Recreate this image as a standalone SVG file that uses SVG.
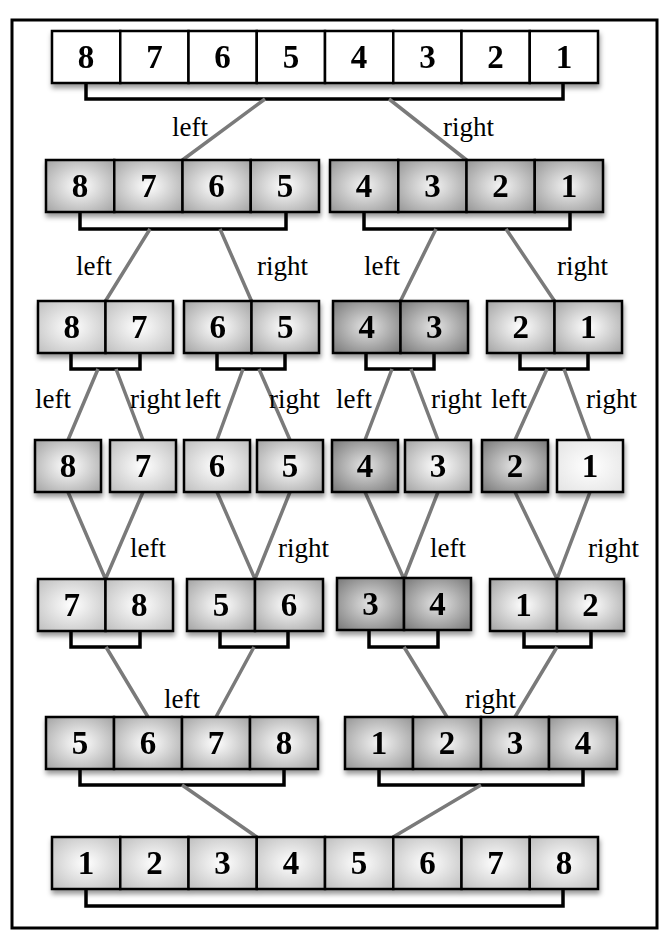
<svg xmlns="http://www.w3.org/2000/svg" width="668" height="950" viewBox="0 0 668 950">
<style>
.cell{stroke:#000;stroke-width:2.5}
.num{font-family:"Liberation Serif","Times New Roman",serif;font-weight:bold;font-size:33px;text-anchor:middle;fill:#000}
.lbl{font-family:"Liberation Serif","Times New Roman",serif;font-size:27px;fill:#000}
.br{fill:none;stroke:#000;stroke-width:3.5}
.ln{stroke:#7a7a7a;stroke-width:3.5;fill:none}
.node{filter:url(#sh)}
</style>
<defs>
<filter id="sh" x="-10%" y="-20%" width="120%" height="150%">
<feDropShadow dx="1" dy="4" stdDeviation="2.5" flood-color="#000" flood-opacity="0.4"/>
</filter>
<radialGradient id="gA" cx="50%" cy="50%" r="72%"><stop offset="0" stop-color="#ffffff"/><stop offset="1" stop-color="#a0a0a0"/></radialGradient>
<radialGradient id="gA2" cx="50%" cy="50%" r="72%"><stop offset="0" stop-color="#f4f4f4"/><stop offset="1" stop-color="#929292"/></radialGradient>
<radialGradient id="gB" cx="50%" cy="50%" r="72%"><stop offset="0" stop-color="#e4e4e4"/><stop offset="1" stop-color="#747474"/></radialGradient>
<radialGradient id="gC" cx="50%" cy="50%" r="72%"><stop offset="0" stop-color="#ffffff"/><stop offset="1" stop-color="#bcbcbc"/></radialGradient>
<radialGradient id="gD" cx="50%" cy="50%" r="72%"><stop offset="0" stop-color="#ffffff"/><stop offset="1" stop-color="#e2e2e2"/></radialGradient>
</defs>
<rect x="0" y="0" width="668" height="950" fill="#fff"/>
<rect x="12" y="20" width="645" height="908" fill="none" stroke="#000" stroke-width="3"/>

<g id="connectors">
<path class="br" d="M86,83V99H563V83"/>
<path class="br" d="M80,212V229H286V212M364,212V229H570V212"/>
<path class="br" d="M71,353V369H140V353M217,353V369H285V353M366,353V369H434V353M520,353V369H588V353"/>
<path class="br" d="M71,631V647H140V631M220,631V647H288V631M369,631V647H438V631M524,631V647H591V631"/>
<path class="br" d="M80,769V785H284V769M379,769V785H583V769"/>
<path class="br" d="M86,889V906H563V889"/>
<path class="ln" d="M265,99L182.5,160M389,99L466.5,160"/>
<path class="ln" d="M150,229L105.5,301M220,229L251.5,301M436,229L400.5,301M506,229L554.5,301"/>
<path class="ln" d="M98,369L68,440M116,369L143,440M243,369L217,440M259,369L290,440M392,369L365,440M411,369L438,440M547,369L515,440M564,369L590,440"/>
<path class="ln" d="M68,492L105.5,579M143,492L105.5,579M217,492L255,579M290,492L255,579M365,492L404,579M438,492L404,579M515,492L557,579M590,492L557,579"/>
<path class="ln" d="M106,647L148,717M254,647L216,717M404,647L447,717M557,647L515,717"/>
<path class="ln" d="M182,785L256.75,837M481,785L393.25,837"/>
<text class="lbl" x="172" y="136">left</text>
<text class="lbl" x="443" y="136">right</text>
<text class="lbl" x="76" y="275">left</text>
<text class="lbl" x="257" y="275">right</text>
<text class="lbl" x="364" y="275">left</text>
<text class="lbl" x="557" y="275">right</text>
<text class="lbl" x="35" y="408">left</text>
<text class="lbl" x="130" y="408">right</text>
<text class="lbl" x="185" y="408">left</text>
<text class="lbl" x="269" y="408">right</text>
<text class="lbl" x="336" y="408">left</text>
<text class="lbl" x="431" y="408">right</text>
<text class="lbl" x="491" y="408">left</text>
<text class="lbl" x="586" y="408">right</text>
<text class="lbl" x="130" y="557">left</text>
<text class="lbl" x="278" y="557">right</text>
<text class="lbl" x="430" y="557">left</text>
<text class="lbl" x="588" y="557">right</text>
<text class="lbl" x="164" y="708">left</text>
<text class="lbl" x="465" y="708">right</text>
</g>

<g id="r1" class="node">
<rect class="cell" x="52" y="31" width="68.25" height="52" fill="#fff"/>
<rect class="cell" x="120.25" y="31" width="68.25" height="52" fill="#fff"/>
<rect class="cell" x="188.5" y="31" width="68.25" height="52" fill="#fff"/>
<rect class="cell" x="256.75" y="31" width="68.25" height="52" fill="#fff"/>
<rect class="cell" x="325" y="31" width="68.25" height="52" fill="#fff"/>
<rect class="cell" x="393.25" y="31" width="68.25" height="52" fill="#fff"/>
<rect class="cell" x="461.5" y="31" width="68.25" height="52" fill="#fff"/>
<rect class="cell" x="529.75" y="31" width="68.25" height="52" fill="#fff"/>
<text class="num" x="86" y="68">8</text><text class="num" x="154.4" y="68">7</text><text class="num" x="222.6" y="68">6</text><text class="num" x="290.9" y="68">5</text><text class="num" x="359.1" y="68">4</text><text class="num" x="427.4" y="68">3</text><text class="num" x="495.6" y="68">2</text><text class="num" x="563.9" y="68">1</text>
</g>

<g id="r2a" class="node">
<rect class="cell" x="46" y="160" width="68.25" height="52" fill="url(#gA)"/>
<rect class="cell" x="114.25" y="160" width="68.25" height="52" fill="url(#gA)"/>
<rect class="cell" x="182.5" y="160" width="68.25" height="52" fill="url(#gA)"/>
<rect class="cell" x="250.75" y="160" width="68.25" height="52" fill="url(#gA)"/>
<text class="num" x="80" y="197">8</text><text class="num" x="148.4" y="197">7</text><text class="num" x="216.6" y="197">6</text><text class="num" x="284.9" y="197">5</text>
</g>
<g id="r2b" class="node">
<rect class="cell" x="330" y="160" width="68.25" height="52" fill="url(#gA2)"/>
<rect class="cell" x="398.25" y="160" width="68.25" height="52" fill="url(#gA2)"/>
<rect class="cell" x="466.5" y="160" width="68.25" height="52" fill="url(#gA2)"/>
<rect class="cell" x="534.75" y="160" width="68.25" height="52" fill="url(#gA2)"/>
<text class="num" x="364" y="197">4</text><text class="num" x="432.4" y="197">3</text><text class="num" x="500.6" y="197">2</text><text class="num" x="568.9" y="197">1</text>
</g>

<g id="r3a" class="node">
<rect class="cell" x="38" y="301" width="67.5" height="52" fill="url(#gC)"/>
<rect class="cell" x="105.5" y="301" width="67.5" height="52" fill="url(#gC)"/>
<text class="num" x="71.8" y="338">8</text><text class="num" x="139.3" y="338">7</text>
</g>
<g id="r3b" class="node">
<rect class="cell" x="184" y="301" width="67.5" height="52" fill="url(#gA)"/>
<rect class="cell" x="251.5" y="301" width="67.5" height="52" fill="url(#gA)"/>
<text class="num" x="217.8" y="338">6</text><text class="num" x="285.3" y="338">5</text>
</g>
<g id="r3c" class="node">
<rect class="cell" x="333" y="301" width="67.5" height="52" fill="url(#gB)"/>
<rect class="cell" x="400.5" y="301" width="67.5" height="52" fill="url(#gB)"/>
<text class="num" x="366.8" y="338">4</text><text class="num" x="434.3" y="338">3</text>
</g>
<g id="r3d" class="node">
<rect class="cell" x="487" y="301" width="67.5" height="52" fill="url(#gA)"/>
<rect class="cell" x="554.5" y="301" width="67.5" height="52" fill="url(#gA)"/>
<text class="num" x="520.8" y="338">2</text><text class="num" x="588.3" y="338">1</text>
</g>

<g id="r4a" class="node"><rect class="cell" x="35" y="440" width="66" height="52" fill="url(#gA)"/><text class="num" x="68" y="477">8</text></g>
<g id="r4b" class="node"><rect class="cell" x="110" y="440" width="66" height="52" fill="url(#gC)"/><text class="num" x="143" y="477">7</text></g>
<g id="r4c" class="node"><rect class="cell" x="184" y="440" width="66" height="52" fill="url(#gC)"/><text class="num" x="217" y="477">6</text></g>
<g id="r4d" class="node"><rect class="cell" x="257" y="440" width="66" height="52" fill="url(#gA)"/><text class="num" x="290" y="477">5</text></g>
<g id="r4e" class="node"><rect class="cell" x="332" y="440" width="66" height="52" fill="url(#gB)"/><text class="num" x="365" y="477">4</text></g>
<g id="r4f" class="node"><rect class="cell" x="405" y="440" width="66" height="52" fill="url(#gA)"/><text class="num" x="438" y="477">3</text></g>
<g id="r4g" class="node"><rect class="cell" x="482" y="440" width="66" height="52" fill="url(#gB)"/><text class="num" x="515" y="477">2</text></g>
<g id="r4h" class="node"><rect class="cell" x="557" y="440" width="66" height="52" fill="url(#gD)"/><text class="num" x="590" y="477">1</text></g>

<g id="r5a" class="node">
<rect class="cell" x="38" y="579" width="67.5" height="52" fill="url(#gC)"/>
<rect class="cell" x="105.5" y="579" width="67.5" height="52" fill="url(#gC)"/>
<text class="num" x="71.8" y="616">7</text><text class="num" x="139.3" y="616">8</text>
</g>
<g id="r5b" class="node">
<rect class="cell" x="187" y="579" width="68" height="52" fill="url(#gA)"/>
<rect class="cell" x="255" y="579" width="68" height="52" fill="url(#gA)"/>
<text class="num" x="221" y="616">5</text><text class="num" x="289" y="616">6</text>
</g>
<g id="r5c" class="node">
<rect class="cell" x="337" y="578" width="67" height="52" fill="url(#gB)"/>
<rect class="cell" x="404" y="578" width="67" height="52" fill="url(#gB)"/>
<text class="num" x="370.5" y="615">3</text><text class="num" x="437.5" y="615">4</text>
</g>
<g id="r5d" class="node">
<rect class="cell" x="490" y="579" width="67" height="52" fill="url(#gA)"/>
<rect class="cell" x="557" y="579" width="67" height="52" fill="url(#gA)"/>
<text class="num" x="523.5" y="616">1</text><text class="num" x="590.5" y="616">2</text>
</g>

<g id="r6a" class="node">
<rect class="cell" x="46" y="717" width="68" height="52" fill="url(#gA)"/>
<rect class="cell" x="114" y="717" width="68" height="52" fill="url(#gA)"/>
<rect class="cell" x="182" y="717" width="68" height="52" fill="url(#gA)"/>
<rect class="cell" x="250" y="717" width="68" height="52" fill="url(#gA)"/>
<text class="num" x="80" y="754">5</text><text class="num" x="148" y="754">6</text><text class="num" x="216" y="754">7</text><text class="num" x="284" y="754">8</text>
</g>
<g id="r6b" class="node">
<rect class="cell" x="345" y="717" width="68" height="52" fill="url(#gA2)"/>
<rect class="cell" x="413" y="717" width="68" height="52" fill="url(#gA2)"/>
<rect class="cell" x="481" y="717" width="68" height="52" fill="url(#gA2)"/>
<rect class="cell" x="549" y="717" width="68" height="52" fill="url(#gA2)"/>
<text class="num" x="379" y="754">1</text><text class="num" x="447" y="754">2</text><text class="num" x="515" y="754">3</text><text class="num" x="583" y="754">4</text>
</g>

<g id="r7" class="node">
<rect class="cell" x="52" y="837" width="68.25" height="52" fill="url(#gC)"/>
<rect class="cell" x="120.25" y="837" width="68.25" height="52" fill="url(#gC)"/>
<rect class="cell" x="188.5" y="837" width="68.25" height="52" fill="url(#gC)"/>
<rect class="cell" x="256.75" y="837" width="68.25" height="52" fill="url(#gC)"/>
<rect class="cell" x="325" y="837" width="68.25" height="52" fill="url(#gC)"/>
<rect class="cell" x="393.25" y="837" width="68.25" height="52" fill="url(#gC)"/>
<rect class="cell" x="461.5" y="837" width="68.25" height="52" fill="url(#gC)"/>
<rect class="cell" x="529.75" y="837" width="68.25" height="52" fill="url(#gC)"/>
<text class="num" x="86" y="874">1</text><text class="num" x="154.4" y="874">2</text><text class="num" x="222.6" y="874">3</text><text class="num" x="290.9" y="874">4</text><text class="num" x="359.1" y="874">5</text><text class="num" x="427.4" y="874">6</text><text class="num" x="495.6" y="874">7</text><text class="num" x="563.9" y="874">8</text>
</g>
</svg>
